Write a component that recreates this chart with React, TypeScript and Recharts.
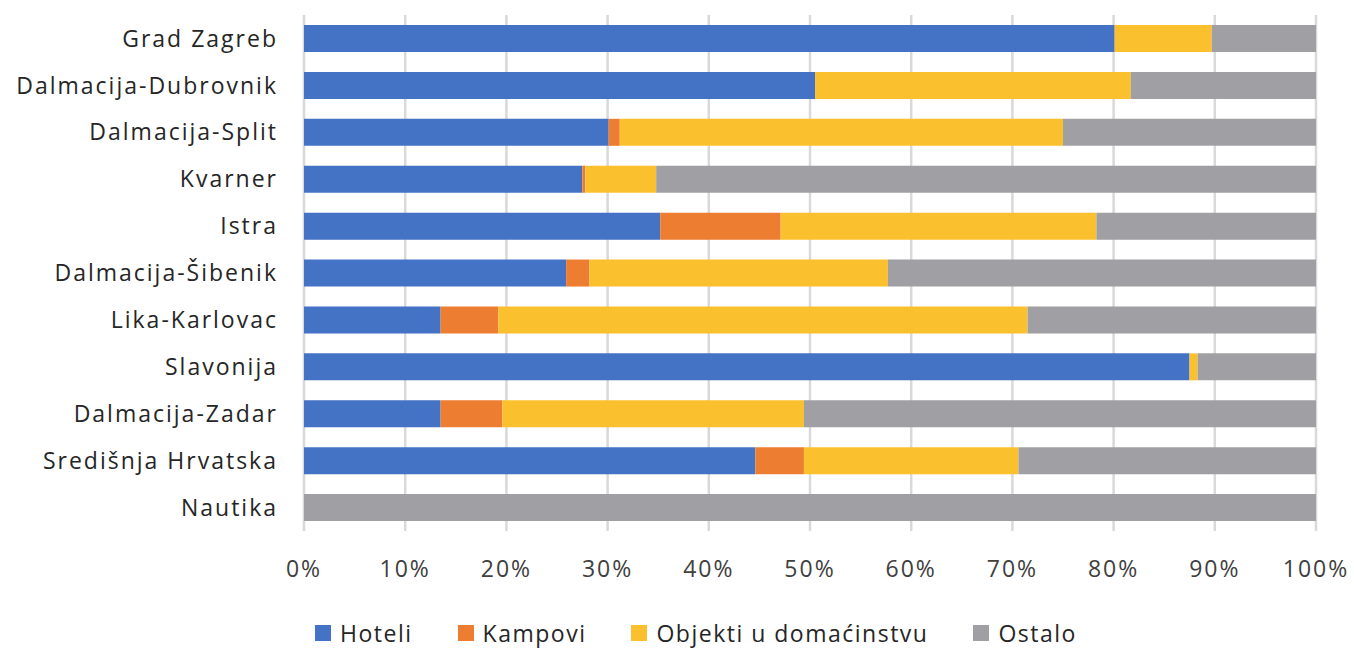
import React from 'react';
import { BarChart, Bar, XAxis, YAxis, CartesianGrid, Legend } from 'recharts';

const categories = ['Grad Zagreb', 'Dalmacija-Dubrovnik', 'Dalmacija-Split', 'Kvarner', 'Istra', 'Dalmacija-Šibenik', 'Lika-Karlovac', 'Slavonija', 'Dalmacija-Zadar', 'Središnja Hrvatska', 'Nautika'];
const hoteli = [80.1, 50.5, 30.1, 27.5, 35.2, 25.9, 13.5, 87.5, 13.5, 44.6, 0];
const kampovi = [0, 0, 1.1, 0.3, 11.9, 2.3, 5.7, 0, 6.1, 4.8, 0];
const objekti = [9.6, 31.2, 43.8, 7.0, 31.2, 29.5, 52.3, 0.8, 29.8, 21.2, 0];
const ostalo = [10.3, 18.3, 25.0, 65.2, 21.7, 42.3, 28.5, 11.7, 50.6, 29.4, 100];
const ticks = [0, 10, 20, 30, 40, 50, 60, 70, 80, 90, 100];

const seriesNames = ['Hoteli', 'Kampovi', 'Objekti u domaćinstvu', 'Ostalo'];
const colors = ['#4472C4', '#ED7D31', '#FBC02D', '#A0A0A4'];

const data = categories.map((name, i) => ({
  name,
  s0: hoteli[i],
  s1: kampovi[i],
  s2: objekti[i],
  s3: ostalo[i],
}));

const font = '"Open Sans", Lato, sans-serif';

const LegendContent = () => (
  <div style={{ display: 'flex', justifyContent: 'center', alignItems: 'center', fontFamily: font, fontSize: 23, letterSpacing: 1.5, color: '#262626', paddingLeft: 76, paddingTop: 8 }}>
    {seriesNames.map((n, i) => (
      <div key={n} style={{ display: 'flex', alignItems: 'center', marginRight: i < 3 ? 45 : 0 }}>
        <div style={{ width: 16, height: 16, background: colors[i], marginRight: 9 }} />
        <span>{n}</span>
      </div>
    ))}
  </div>
);

export default function App() {
  return (
    <div style={{ position: 'absolute', left: 0, top: 0, width: 1354, height: 649, background: '#fff' }}>
      <BarChart
        width={1354}
        height={649}
        data={data}
        layout="vertical"
        margin={{ top: 15, right: 38, left: 0, bottom: 0 }}
        barSize={27}
      >
        <CartesianGrid horizontal={false} stroke="#d9d9d9" strokeWidth={2.5} />
        <XAxis
          type="number"
          domain={[0, 100]}
          ticks={ticks}
          tickFormatter={(v: number) => `${v}%`}
          axisLine={false}
          tickLine={false}
          height={78}
          tick={{ fontSize: 23, fill: '#404040', fontFamily: font, letterSpacing: 2, dy: 22 }}
        />
        <YAxis
          type="category"
          dataKey="name"
          width={304}
          axisLine={false}
          tickLine={false}
          tick={{ fontSize: 23, fill: '#262626', fontFamily: font, letterSpacing: 2, dx: -18 }}
        />
        <Legend verticalAlign="bottom" height={40} content={<LegendContent />} />
        {['s0', 's1', 's2', 's3'].map((k, i) => (
          <Bar key={k} dataKey={k} name={seriesNames[i]} stackId="a" fill={colors[i]} isAnimationActive={false} />
        ))}
      </BarChart>
    </div>
  );
}
